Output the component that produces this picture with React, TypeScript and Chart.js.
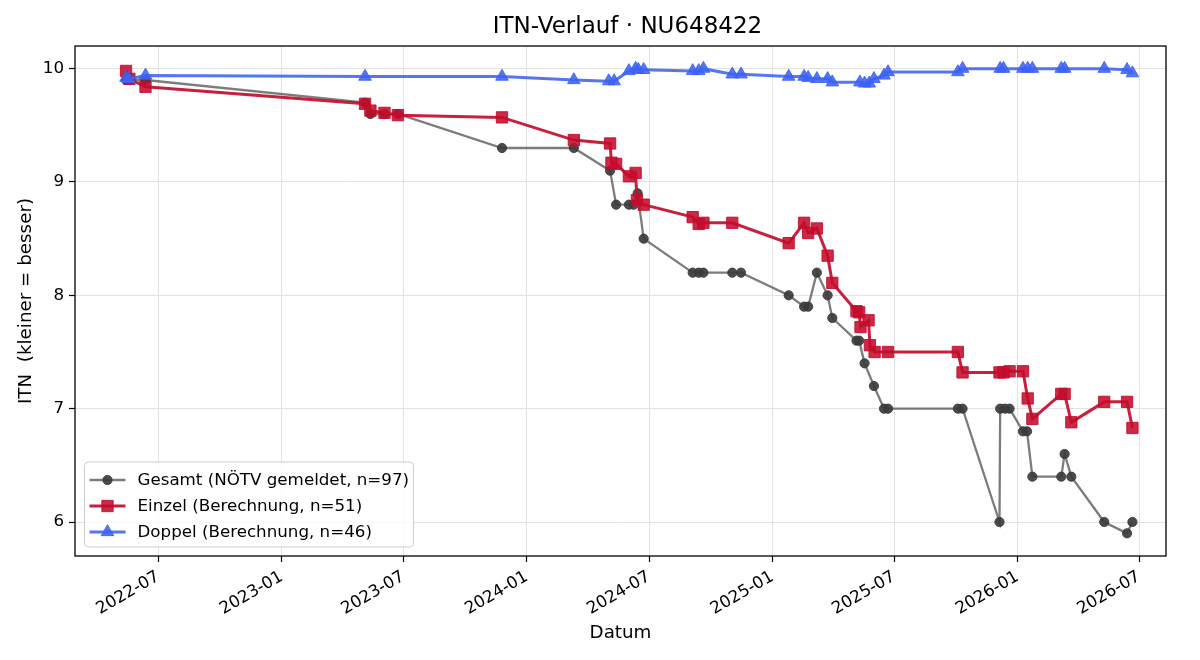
import React, { useEffect, useRef } from 'react';
import { Chart, registerables } from 'chart.js';

Chart.register(...registerables);

const TITLE = 'ITN-Verlauf · NU648422';
const X_LABEL = 'Datum';
const Y_LABEL = 'ITN  (kleiner = besser)';
const seriesLabels = [
  'Gesamt (NÖTV gemeldet, n=97)',
  'Einzel (Berechnung, n=51)',
  'Doppel (Berechnung, n=46)',
];

const gesamtDates = [
  '2022-05-14', '2022-05-19', '2022-06-12', '2023-05-05', '2023-05-13', '2023-06-03', '2023-06-23',
  '2023-11-25', '2024-03-11', '2024-05-04', '2024-05-13', '2024-06-01', '2024-06-08', '2024-06-14',
  '2024-06-23', '2024-09-04', '2024-09-13', '2024-09-20', '2024-11-02', '2024-11-15', '2025-01-25',
  '2025-02-17', '2025-02-23', '2025-03-08', '2025-03-24', '2025-03-31', '2025-05-06', '2025-05-10',
  '2025-05-18', '2025-06-01', '2025-06-16', '2025-06-22', '2025-10-04', '2025-10-11', '2025-12-05',
  '2025-12-06', '2025-12-13', '2025-12-20', '2026-01-09', '2026-01-15', '2026-01-23', '2026-03-07',
  '2026-03-12', '2026-03-22', '2026-05-10', '2026-06-13', '2026-06-21',
];
const gesamtValues = [
  9.9, 9.9, 9.9, 9.7, 9.6, 9.6, 9.6,
  9.3, 9.3, 9.1, 8.8, 8.8, 8.8, 8.9,
  8.5, 8.2, 8.2, 8.2, 8.2, 8.2, 8.0,
  7.9, 7.9, 8.2, 8.0, 7.8, 7.6, 7.6,
  7.4, 7.2, 7.0, 7.0, 7.0, 7.0, 6.0,
  7.0, 7.0, 7.0, 6.8, 6.8, 6.4, 6.4,
  6.6, 6.4, 6.0, 5.9, 6.0,
];

const einzelDates = [
  '2022-05-14', '2022-05-19', '2022-06-12', '2023-05-05', '2023-05-13', '2023-06-03', '2023-06-23',
  '2023-11-25', '2024-03-11', '2024-05-04', '2024-05-06', '2024-05-13', '2024-06-01', '2024-06-11',
  '2024-06-13', '2024-06-23', '2024-09-04', '2024-09-13', '2024-09-20', '2024-11-02', '2025-01-25',
  '2025-02-17', '2025-02-23', '2025-03-08', '2025-03-24', '2025-03-31', '2025-05-06', '2025-05-10',
  '2025-05-12', '2025-05-24', '2025-05-26', '2025-06-02', '2025-06-22', '2025-10-04', '2025-10-11',
  '2025-12-05', '2025-12-11', '2025-12-20', '2026-01-09', '2026-01-16', '2026-01-23', '2026-03-07',
  '2026-03-12', '2026-03-22', '2026-05-10', '2026-06-13', '2026-06-21',
];
const einzelValues = [
  9.98, 9.91, 9.84, 9.69, 9.63, 9.61, 9.59,
  9.57, 9.37, 9.34, 9.17, 9.16, 9.05, 9.08,
  8.84, 8.80, 8.69, 8.63, 8.64, 8.64, 8.46,
  8.64, 8.55, 8.59, 8.35, 8.11, 7.86, 7.85,
  7.72, 7.78, 7.56, 7.50, 7.50, 7.50, 7.32,
  7.32, 7.32, 7.33, 7.33, 7.09, 6.91, 7.13,
  7.13, 6.88, 7.06, 7.06, 6.83,
];

const doppelDates = [
  '2022-05-14', '2022-05-18', '2022-06-12', '2023-05-05', '2023-11-25', '2024-03-11', '2024-05-02',
  '2024-05-10', '2024-06-01', '2024-06-11', '2024-06-15', '2024-06-23', '2024-09-04', '2024-09-13',
  '2024-09-20', '2024-11-02', '2024-11-15', '2025-01-25', '2025-02-17', '2025-02-23', '2025-03-08',
  '2025-03-24', '2025-03-31', '2025-05-11', '2025-05-18', '2025-05-25', '2025-06-01', '2025-06-16',
  '2025-06-22', '2025-10-04', '2025-10-11', '2025-12-06', '2025-12-11', '2026-01-09', '2026-01-16',
  '2026-01-23', '2026-03-07', '2026-03-12', '2026-05-10', '2026-06-13', '2026-06-21',
];
const doppelValues = [
  9.92, 9.91, 9.94, 9.93, 9.93, 9.90, 9.89,
  9.89, 9.98, 10.0, 9.99, 9.99, 9.98, 9.98,
  10.0, 9.95, 9.95, 9.93, 9.93, 9.92, 9.91,
  9.91, 9.88, 9.88, 9.87, 9.87, 9.91, 9.94,
  9.97, 9.97, 10.0, 10.0, 10.0, 10.0, 10.0,
  10.0, 10.0, 10.0, 10.0, 9.99, 9.96,
];

const xTickLabels = ['2022-07', '2023-01', '2023-07', '2024-01', '2024-07', '2025-01', '2025-07', '2026-01', '2026-07'];
const yTickValues = [6, 7, 8, 9, 10];
const X_MIN_DATE = '2022-02-27';
const X_MAX_DATE = '2026-08-10';
const Y_MIN = 5.7;
const Y_MAX = 10.2;

const FONT = "'DejaVu Sans', 'Liberation Sans', sans-serif";

const ts = (d: string) => Date.parse(d + 'T00:00:00Z');
const toPoints = (dates: string[], values: number[]) => dates.map((d, i) => ({ x: ts(d), y: values[i] }));
const fmtMonth = (v: number) => {
  const d = new Date(v);
  return `${d.getUTCFullYear()}-${String(d.getUTCMonth() + 1).padStart(2, '0')}`;
};

function drawMarker(ctx: CanvasRenderingContext2D, style: string, x: number, y: number, r: number) {
  ctx.beginPath();
  if (style === 'rect') {
    const s = Math.SQRT1_2 * r;
    ctx.rect(x - s, y - s, 2 * s, 2 * s);
  } else if (style === 'triangle') {
    ctx.moveTo(x, y - r);
    ctx.lineTo(x + 0.866 * r, y + 0.5 * r);
    ctx.lineTo(x - 0.866 * r, y + 0.5 * r);
    ctx.closePath();
  } else {
    ctx.arc(x, y, r, 0, Math.PI * 2);
  }
  ctx.fill();
  ctx.stroke();
}

const frameAndLegend = {
  id: 'frameAndLegend',
  afterDraw(chart: any) {
    const { ctx, chartArea } = chart;
    ctx.save();
    ctx.fillStyle = '#000';
    ctx.font = `23px ${FONT}`;
    ctx.textAlign = 'center';
    ctx.textBaseline = 'middle';
    ctx.fillText(TITLE, (chartArea.left + chartArea.right) / 2 + 7, 27.5);
    ctx.restore();
  },
  afterDatasetsDraw(chart: any) {
    const { ctx, chartArea } = chart;
    const { left, top, right, bottom } = chartArea;
    ctx.save();
    ctx.strokeStyle = '#000';
    ctx.lineWidth = 1.3;
    ctx.strokeRect(left, top, right - left, bottom - top);

    // legend box (lower left)
    const bx = left + 9.5;
    const by = bottom - 94;
    const bw = 329;
    const bh = 85;
    const rr = 4;
    ctx.beginPath();
    ctx.moveTo(bx + rr, by);
    ctx.lineTo(bx + bw - rr, by);
    ctx.arcTo(bx + bw, by, bx + bw, by + rr, rr);
    ctx.lineTo(bx + bw, by + bh - rr);
    ctx.arcTo(bx + bw, by + bh, bx + bw - rr, by + bh, rr);
    ctx.lineTo(bx + rr, by + bh);
    ctx.arcTo(bx, by + bh, bx, by + bh - rr, rr);
    ctx.lineTo(bx, by + rr);
    ctx.arcTo(bx, by, bx + rr, by, rr);
    ctx.closePath();
    ctx.fillStyle = 'rgba(255,255,255,0.8)';
    ctx.fill();
    ctx.strokeStyle = '#cccccc';
    ctx.lineWidth = 1;
    ctx.stroke();

    chart.data.datasets.forEach((ds: any, i: number) => {
      const cy = by + 18 + i * 26;
      ctx.strokeStyle = ds.borderColor;
      ctx.lineWidth = ds.borderWidth;
      ctx.beginPath();
      ctx.moveTo(bx + 5, cy);
      ctx.lineTo(bx + 41, cy);
      ctx.stroke();
      ctx.fillStyle = ds.pointBackgroundColor;
      ctx.strokeStyle = ds.pointBorderColor;
      ctx.lineWidth = ds.pointBorderWidth;
      drawMarker(ctx, ds.pointStyle, bx + 23, cy, ds.pointRadius);
      ctx.fillStyle = '#000';
      ctx.font = `16.7px ${FONT}`;
      ctx.textAlign = 'left';
      ctx.textBaseline = 'middle';
      ctx.fillText(ds.label, bx + 53, cy + 1);
    });
    ctx.restore();
  },
};

export default function App() {
  const ref = useRef<HTMLCanvasElement | null>(null);

  useEffect(() => {
    if (!ref.current) return;
    Chart.defaults.font.family = FONT;
    Chart.defaults.color = '#000';
    const chart = new Chart(ref.current, {
      type: 'line',
      data: {
        datasets: [
          {
            label: seriesLabels[0],
            data: toPoints(gesamtDates, gesamtValues),
            borderColor: 'rgba(68,68,68,0.7)',
            borderWidth: 2.3,
            pointBackgroundColor: 'rgba(60,60,60,0.92)',
            pointBorderColor: 'rgba(60,60,60,0.92)',
            pointBorderWidth: 1,
            pointRadius: 4.6,
            pointStyle: 'circle',
            tension: 0,
            order: 3,
          },
          {
            label: seriesLabels[1],
            data: toPoints(einzelDates, einzelValues),
            borderColor: 'rgba(196,12,44,0.92)',
            borderWidth: 3,
            pointBackgroundColor: 'rgba(196,12,44,0.88)',
            pointBorderColor: 'rgba(196,12,44,0.88)',
            pointBorderWidth: 1,
            pointRadius: 8,
            pointStyle: 'rect',
            tension: 0,
            order: 2,
          },
          {
            label: seriesLabels[2],
            data: toPoints(doppelDates, doppelValues),
            borderColor: 'rgba(61,99,243,0.88)',
            borderWidth: 3,
            pointBackgroundColor: 'rgba(61,99,243,0.88)',
            pointBorderColor: 'rgba(61,99,243,0.88)',
            pointBorderWidth: 1,
            pointRadius: 7.3,
            pointStyle: 'triangle',
            tension: 0,
            order: 1,
          },
        ],
      },
      options: {
        responsive: false,
        animation: false,
        events: [],
        layout: { padding: { left: 0, right: 34, top: 46, bottom: 0 } },
        plugins: {
          legend: { display: false },
          tooltip: { enabled: false },
          title: { display: false },
        },
        scales: {
          x: {
            type: 'linear',
            min: ts(X_MIN_DATE),
            max: ts(X_MAX_DATE),
            afterBuildTicks: (scale: any) => {
              scale.ticks = xTickLabels.map((l) => ({ value: ts(l + '-01') }));
            },
            afterFit: (scale: any) => {
              scale.height = 104;
            },
            ticks: {
              autoSkip: false,
              minRotation: 30,
              maxRotation: 30,
              padding: 5,
              color: '#000',
              font: { size: 16.7, family: FONT },
              callback: (v: any) => fmtMonth(Number(v)),
            },
            grid: {
              color: '#e2e2e2',
              lineWidth: 1,
              tickColor: '#000',
              tickLength: 6,
              tickWidth: 1.2,
            },
            border: { display: false },
            title: {
              display: true,
              text: X_LABEL,
              color: '#000',
              font: { size: 18.3, family: FONT },
              padding: { top: 4, bottom: 16 },
            },
          },
          y: {
            type: 'linear',
            min: Y_MIN,
            max: Y_MAX,
            afterBuildTicks: (scale: any) => {
              scale.ticks = yTickValues.map((v) => ({ value: v }));
            },
            afterFit: (scale: any) => {
              scale.width = 75;
            },
            ticks: {
              padding: 5,
              color: '#000',
              font: { size: 16.7, family: FONT },
              callback: (v: any) => String(v),
            },
            grid: {
              color: '#e2e2e2',
              lineWidth: 1,
              tickColor: '#000',
              tickLength: 6,
              tickWidth: 1.2,
            },
            border: { display: false },
            title: {
              display: true,
              text: Y_LABEL,
              color: '#000',
              font: { size: 18.3, family: FONT },
              padding: { top: 15, bottom: 0 },
            },
          },
        },
      },
      plugins: [frameAndLegend],
    } as any);
    return () => chart.destroy();
  }, []);

  return (
    <div style={{ position: 'absolute', left: 0, top: 0, width: 1200, height: 660, background: '#fff' }}>
      <canvas ref={ref} width={1200} height={660} style={{ display: 'block' }} />
    </div>
  );
}
